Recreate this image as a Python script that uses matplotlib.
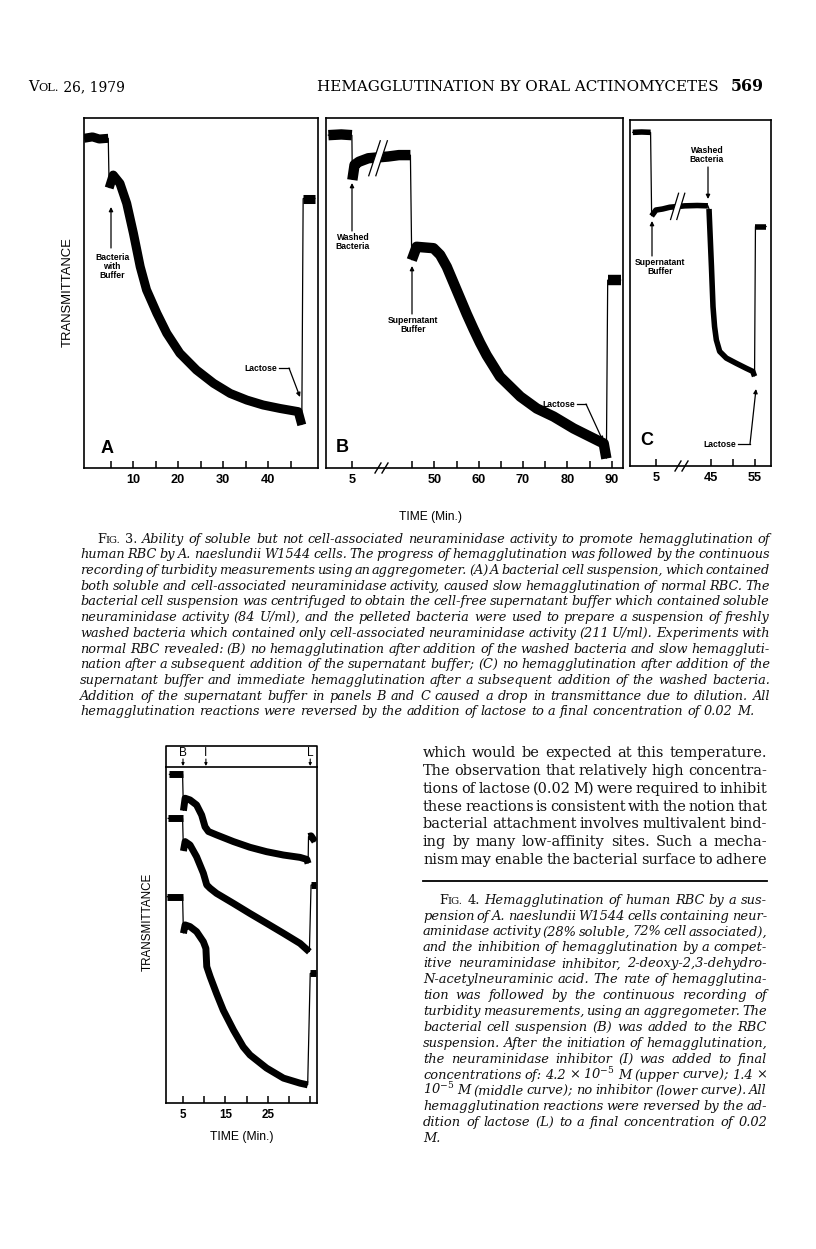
import matplotlib
matplotlib.use('Agg')
import matplotlib.pyplot as plt
from matplotlib.patches import Polygon
import matplotlib.transforms as mtransforms

plt.rcParams['mathtext.fontset'] = 'dejavuserif'

W, H = 816, 1249
SANS = 'Liberation Sans'
SERIF = 'DejaVu Serif'

# ---------------- data ----------------
# Fig. 3A : time (min) vs transmittance (% of panel height)
A_base_t = [-0.9, 1.0, 2.5, 4.5]
A_base_v = [94.2, 94.6, 94.0, 94.2]
A_curve_t = [4.7, 5.6, 7.1, 8.6, 10.1, 11.6, 13.0, 15.3, 17.5, 20.4, 24.1, 27.9, 31.6, 35.3, 38.9, 42.7, 46.7, 47.5]
A_curve_v = [80.0, 83.7, 81.3, 75.6, 67.0, 57.5, 50.9, 44.2, 38.5, 32.8, 28.0, 24.2, 21.3, 19.4, 18.0, 17.0, 16.1, 12.3]
A_lac_t = [47.8, 50.4]
A_lac_v = [77.0, 77.0]
A_ticks = [5, 10, 15, 20, 25, 30, 35, 40, 45]
A_ticklabels = ['', '10', '', '20', '', '30', '', '40', '']

# Fig. 3B (broken time axis)
B_base_t = [-0.4, 2.5, 4.9]
B_base_v = [95.1, 95.3, 95.1]
B_wash_t = [5.0, 5.5, 6.5, 8.6, 39.6, 42.0, 44.6]
B_wash_v = [82.3, 86.6, 87.5, 88.5, 89.0, 89.4, 89.4]
B_sup_t = [44.9, 46.0, 49.8, 51.3, 52.8, 54.3, 55.8, 57.3, 58.8, 60.3, 61.8, 64.8, 69.4, 73.1, 76.9, 81.4, 84.4, 88.2, 88.8]
B_sup_v = [59.4, 63.2, 62.8, 60.9, 57.5, 53.0, 48.5, 44.0, 39.8, 35.8, 32.2, 26.1, 20.4, 17.0, 14.7, 11.3, 9.4, 7.0, 2.7]
B_lac_t = [89.1, 92.0]
B_lac_v = [53.7, 53.7]
B_ticks = [5, 45, 50, 55, 60, 65, 70, 75, 80, 85, 90]
B_ticklabels = ['5', '', '50', '', '60', '', '70', '', '80', '', '90']
B_OFFSET = 26.5

# Fig. 3C (broken time axis)
C_base_t = [-0.2, 1.8, 3.8]
C_base_v = [95.9, 96.0, 95.9]
C_sup_t = [4.04, 5.0, 6.5, 8.1, 39.2, 42.0, 44.4]
C_sup_v = [72.0, 73.7, 74.0, 74.5, 74.9, 75.0, 74.9]
C_wash_t = [44.65, 45.2, 45.55, 45.9, 46.3, 47.05, 48.55, 50.8, 53.0, 54.5, 54.9]
C_wash_v = [74.0, 57.5, 46.1, 40.4, 36.6, 33.3, 31.4, 29.9, 28.5, 27.6, 26.2]
C_lac_t = [55.1, 57.5]
C_lac_v = [69.0, 69.0]
C_ticks = [5, 45, 50, 55]
C_ticklabels = ['5', '45', '', '55']
C_OFFSET = 27.7

# Fig. 4 : three curves (upper, middle, lower)
F4_up_base_t = [1.8, 4.9]
F4_up_base_v = [97.8, 97.8]
F4_up_t = [5.1, 5.5, 6.65, 8.2, 9.4, 10.2, 11.0, 12.9, 16.9, 20.8, 24.7, 28.7, 32.6, 34.2, 34.5]
F4_up_v = [87.0, 90.7, 90.2, 88.7, 85.7, 82.2, 80.8, 79.8, 77.8, 76.1, 74.8, 73.8, 73.1, 72.5, 71.3]
F4_up_lac_t = [34.6, 35.2, 36.1]
F4_up_lac_v = [79.3, 79.5, 77.8]
F4_mid_base_t = [1.5, 4.9]
F4_mid_base_v = [84.7, 84.7]
F4_mid_t = [5.1, 5.5, 6.65, 8.2, 9.8, 10.6, 11.4, 12.9, 16.9, 20.8, 24.7, 28.7, 32.6, 34.8]
F4_mid_v = [75.0, 77.8, 76.8, 73.3, 68.4, 64.9, 63.9, 62.4, 59.4, 56.4, 53.5, 50.5, 47.5, 45.0]
F4_mid_lac_t = [35.2, 36.3]
F4_mid_lac_v = [64.9, 64.9]
F4_low_base_t = [1.3, 4.9]
F4_low_base_v = [61.4, 61.4]
F4_low_t = [5.1, 5.5, 6.65, 8.2, 9.8, 10.4, 10.6, 11.4, 12.9, 14.5, 16.9, 19.2, 20.8, 24.7, 28.7, 32.6, 34.4]
F4_low_v = [50.5, 53.0, 52.5, 51.0, 48.0, 46.0, 40.6, 37.6, 32.6, 27.6, 21.7, 16.7, 14.3, 10.4, 7.4, 5.9, 5.4]
F4_low_lac_t = [35.0, 36.3]
F4_low_lac_v = [38.6, 38.6]
F4_ticks = [5, 10, 15, 20, 25, 30, 35]
F4_ticklabels = ['5', '', '15', '', '25', '', '']
F4_events = {'B': 5.0, 'I': 10.4, 'L': 35.0}

# ---------------- texts ----------------
header_title = 'HEMAGGLUTINATION BY ORAL ACTINOMYCETES'
header_page = '569'

fig3_caption = [
    "FIG. 3. Ability of soluble but not cell-associated neuraminidase activity to promote hemagglutination of",
    "human RBC by A. naeslundii W1544 cells. The progress of hemagglutination was followed by the continuous",
    "recording of turbidity measurements using an aggregometer. (A) A bacterial cell suspension, which contained",
    "both soluble and cell-associated neuraminidase activity, caused slow hemagglutination of normal RBC. The",
    "bacterial cell suspension was centrifuged to obtain the cell-free supernatant buffer which contained soluble",
    "neuraminidase activity (84 U/ml), and the pelleted bacteria were used to prepare a suspension of freshly",
    "washed bacteria which contained only cell-associated neuraminidase activity (211 U/ml). Experiments with",
    "normal RBC revealed: (B) no hemagglutination after addition of the washed bacteria and slow hemaggluti-",
    "nation after a subsequent addition of the supernatant buffer; (C) no hemagglutination after addition of the",
    "supernatant buffer and immediate hemagglutination after a subsequent addition of the washed bacteria.",
    "Addition of the supernatant buffer in panels B and C caused a drop in transmittance due to dilution. All",
    "hemagglutination reactions were reversed by the addition of lactose to a final concentration of 0.02 M.",
]

body_text = [
    "which would be expected at this temperature.",
    "The observation that relatively high concentra-",
    "tions of lactose (0.02 M) were required to inhibit",
    "these reactions is consistent with the notion that",
    "bacterial attachment involves multivalent bind-",
    "ing by many low-affinity sites. Such a mecha-",
    "nism may enable the bacterial surface to adhere",
]

fig4_caption = [
    "FIG. 4. Hemagglutination of human RBC by a sus-",
    "pension of A. naeslundii W1544 cells containing neur-",
    "aminidase activity (28% soluble, 72% cell associated),",
    "and the inhibition of hemagglutination by a compet-",
    "itive neuraminidase inhibitor, 2-deoxy-2,3-dehydro-",
    "N-acetylneuraminic acid. The rate of hemagglutina-",
    "tion was followed by the continuous recording of",
    "turbidity measurements, using an aggregometer. The",
    "bacterial cell suspension (B) was added to the RBC",
    "suspension. After the initiation of hemagglutination,",
    "the neuraminidase inhibitor (I) was added to final",
    "concentrations of: 4.2 \u00d7 10$^{-5}$ M (upper curve); 1.4 \u00d7",
    "10$^{-5}$ M (middle curve); no inhibitor (lower curve). All",
    "hemagglutination reactions were reversed by the ad-",
    "dition of lactose (L) to a final concentration of 0.02",
    "M.",
]

# ---------------- figure & helpers ----------------
fig = plt.figure(figsize=(W / 100, H / 100), dpi=100)
fig.patch.set_facecolor('white')
page = fig.add_axes([0, 0, 1, 1])
page.set_xlim(0, W)
page.set_ylim(H, 0)
page.axis('off')
R = fig.canvas.get_renderer()


def measure(s, **kw):
    t = page.text(0, 0, s, **kw)
    w = t.get_window_extent(renderer=R).width
    t.remove()
    return w


def fit_text(s, x0, x1, y, size, **kw):
    w = measure(s, fontsize=size, **kw)
    size2 = size * (x1 - x0) / w
    page.text((x0 + x1) / 2, y, s, fontsize=size2, ha='center', va='center', **kw)


def fit_vtext(s, x, y0, y1, size, **kw):
    w = measure(s, fontsize=size, **kw)
    size2 = size * (y1 - y0) / w
    page.text(x, (y0 + y1) / 2, s, fontsize=size2, ha='center', va='center',
              rotation=90, **kw)


def text_block(lines, x0, x1, yc0, dy, size, style, family, indent=0,
               justify_last=False, lead_words=0, spfac=0.4):
    """Justified text block. The first `lead_words` words of the first
    line are upright with 'FIG.' in small capitals."""
    base = dict(family=family, fontstyle=style)
    up = dict(family=family, fontstyle='normal')

    def words_of(i, sz):
        out = []
        for j, w in enumerate(lines[i].split(' ')):
            if i == 0 and j < lead_words:
                if w == 'FIG.':
                    out.append([('F', dict(up, fontsize=sz)), ('IG.', dict(up, fontsize=sz * 0.78))])
                else:
                    out.append([(w, dict(up, fontsize=sz))])
            else:
                out.append([(w, dict(base, fontsize=sz))])
        return out

    fit = 10.0
    for i in range(len(lines)):
        if i == len(lines) - 1 and not justify_last:
            continue
        ws = words_of(i, size)
        tot = sum(measure(s, **k) for w in ws for s, k in w)
        sp = measure('a a', **dict(base, fontsize=size)) - measure('aa', **dict(base, fontsize=size))
        nat = tot + (len(ws) - 1) * sp * spfac
        avail = x1 - (x0 + (indent if i == 0 else 0))
        fit = min(fit, avail / nat)
    sz = size * fit * 0.998
    sp = measure('a a', **dict(base, fontsize=sz)) - measure('aa', **dict(base, fontsize=sz))
    for i in range(len(lines)):
        ws = words_of(i, sz)
        widths = [[measure(s, **k) for s, k in w] for w in ws]
        tot = sum(sum(x) for x in widths)
        xs = x0 + (indent if i == 0 else 0)
        if (i < len(lines) - 1 or justify_last) and len(ws) > 1:
            gap = (x1 - xs - tot) / (len(ws) - 1)
        else:
            gap = sp
        x = xs
        yb = yc0 + i * dy + 0.36 * sz * 100 / 72
        for w, wd in zip(ws, widths):
            for (s, k), d in zip(w, wd):
                page.text(x, yb, s, ha='left', va='baseline', color='#111111', **k)
                x += d
            x += gap


def add_ax(l, t, r, b):
    ax = fig.add_axes([l / W, 1 - b / H, (r - l) / W, (b - t) / H])
    ax.set_facecolor('none')
    for sp in ax.spines.values():
        sp.set_linewidth(1.2)
    ax.set_yticks([])
    ax.tick_params(axis='x', direction='in', length=5, width=1.1, pad=4)
    return ax


def style_ticks(ax, ticks, labels, size=9.2):
    ax.set_xticks(ticks)
    ax.set_xticklabels(labels, fontfamily=SANS, fontweight='bold', fontsize=size)


def trace(ax, segs, lw, xmap=lambda t: t):
    allt, allv = [], []
    for t, v in segs:
        allt += list(t)
        allv += list(v)
    ax.plot([xmap(t) for t in allt], allv, color='k', lw=0.9, solid_joinstyle='miter')
    for t, v in segs:
        ax.plot([xmap(x) for x in t], v, color='k', lw=lw,
                solid_capstyle='butt', solid_joinstyle='round')


def stripe(ax, u0, v0, v1, width, slant):
    poly = Polygon([(u0, v0), (u0 + slant, v1), (u0 + slant + width, v1), (u0 + width, v0)],
                   closed=True, facecolor='white', edgecolor='none', zorder=5)
    ax.add_patch(poly)
    ax.plot([u0, u0 + slant], [v0, v1], color='k', lw=0.9, zorder=6)
    ax.plot([u0 + width, u0 + slant + width], [v0, v1], color='k', lw=0.9, zorder=6)


def axis_break(xc, y):
    page.add_patch(Polygon([(xc - 5, y - 3), (xc + 5, y - 3), (xc + 5, y + 3), (xc - 5, y + 3)],
                           facecolor='white', edgecolor='none', zorder=10))
    for dx in (-6, 1):
        page.plot([xc + dx, xc + dx + 6], [y + 5, y - 5], color='k', lw=1.0, zorder=11)


arrow_kw = dict(arrowstyle='-|>', color='k', lw=0.9, mutation_scale=6, shrinkA=0, shrinkB=0)


def arrow(x0, y0, x1, y1):
    page.annotate('', xy=(x1, y1), xytext=(x0, y0), arrowprops=arrow_kw)


note_kw = dict(family=SANS, fontweight='bold', fontsize=6.2, ha='center', va='center',
               linespacing=1.0)

# ---------------- header ----------------
page.text(28, 91, 'V', family=SERIF, fontsize=10.5, ha='left', va='baseline')
wv = measure('V', family=SERIF, fontsize=10.5)
page.text(28 + wv, 91, 'OL.', family=SERIF, fontsize=8.2, ha='left', va='baseline')
wo = measure('OL.', family=SERIF, fontsize=8.2)
page.text(28 + wv + wo, 91, ' 26, 1979', family=SERIF, fontsize=10, ha='left', va='baseline')
fit_text(header_title, 318, 718, 87, 10, family=SERIF)
fit_text(header_page, 731, 764, 86, 11, family=SERIF, fontweight='bold')

# ---------------- Fig. 3 panel A ----------------
axA = add_ax(84, 118, 318, 468)
axA.set_xlim(-0.89, 51.1)
axA.set_ylim(0, 100)
style_ticks(axA, A_ticks, A_ticklabels)
trace(axA, [(A_base_t, A_base_v), (A_curve_t, A_curve_v), (A_lac_t, A_lac_v)], 6.5)
page.text(107, 448, 'A', family=SANS, fontweight='bold', fontsize=13, ha='center', va='center')
page.text(112, 266, 'Bacteria\nwith\nBuffer', **note_kw)
arrow(111, 248, 111, 207)
page.text(277, 368, 'Lactose', **dict(note_kw, ha='right'))
page.plot([279, 289], [368, 368], color='k', lw=0.9)
arrow(289, 368, 300, 397)

# ---------------- Fig. 3 panel B ----------------
def mapB(t):
    return t if t < 20 else t - B_OFFSET

axB = add_ax(326, 118, 623, 468)
axB.set_xlim(-0.94, 66.05)
axB.set_ylim(0, 100)
style_ticks(axB, [mapB(t) for t in B_ticks], B_ticklabels)
trace(axB, [(B_base_t, B_base_v), (B_wash_t, B_wash_v), (B_sup_t, B_sup_v),
            (B_lac_t, B_lac_v)], 7.5, mapB)
stripe(axB, 8.7, 83.5, 93.5, 1.6, 2.6)
page.text(342, 447, 'B', family=SANS, fontweight='bold', fontsize=13, ha='center', va='center')
page.text(353, 242, 'Washed\nBacteria', **note_kw)
arrow(352, 231, 352, 183)
page.text(413, 325, 'Supernatant\nBuffer', **note_kw)
arrow(412, 314, 412, 266)
page.text(575, 404, 'Lactose', **dict(note_kw, ha='right'))
page.plot([577, 586], [404, 404], color='k', lw=0.9)
arrow(586, 404, 603, 441)
axis_break(381, 468)

# ---------------- Fig. 3 panel C ----------------
def mapC(t):
    return t if t < 20 else t - C_OFFSET

axC = add_ax(630, 120, 771, 466)
axC.set_xlim(-0.83, 30.9)
axC.set_ylim((468 - 466) / 3.5, (468 - 120) / 3.5)
style_ticks(axC, [mapC(t) for t in C_ticks], C_ticklabels)
trace(axC, [(C_base_t, C_base_v), (C_sup_t, C_sup_v), (C_wash_t, C_wash_v),
            (C_lac_t, C_lac_v)], 4.0, mapC)
stripe(axC, 8.3, 71.0, 78.5, 1.4, 1.8)
page.text(647, 440, 'C', family=SANS, fontweight='bold', fontsize=13, ha='center', va='center')
page.text(707, 155, 'Washed\nBacteria', **note_kw)
arrow(708, 167, 708, 199)
page.text(660, 267, 'Supernatant\nBuffer', **note_kw)
arrow(652, 256, 652, 221)
page.text(736, 444, 'Lactose', **dict(note_kw, ha='right'))
page.plot([738, 750], [444, 444], color='k', lw=0.9)
arrow(750, 444, 756, 389)
axis_break(681, 466)

fit_vtext('TRANSMITTANCE', 68, 238, 347, 8.5, family=SANS)
fit_text('TIME (Min.)', 399, 462, 517, 8.5, family=SANS)

# ---------------- Fig. 3 caption ----------------
text_block(fig3_caption, 80, 770, 538, 15.7, 9.0, 'italic', SERIF, indent=17,
           lead_words=2, spfac=0.45)

# ---------------- Fig. 4 chart ----------------
ax4 = add_ax(166, 767, 317, 1103)
ax4.set_xlim(0.99, 36.6)
ax4.set_ylim(0, 100)
style_ticks(ax4, F4_ticks, F4_ticklabels, size=8.4)
for base_t, base_v, t, v, lt, lv in [
        (F4_up_base_t, F4_up_base_v, F4_up_t, F4_up_v, F4_up_lac_t, F4_up_lac_v),
        (F4_mid_base_t, F4_mid_base_v, F4_mid_t, F4_mid_v, F4_mid_lac_t, F4_mid_lac_v),
        (F4_low_base_t, F4_low_base_v, F4_low_t, F4_low_v, F4_low_lac_t, F4_low_lac_v)]:
    trace(ax4, [(base_t, base_v), (t, v), (lt, lv)], 5.0)
strip_top = 1 + 21 / 336
ax4.plot([0, 0, 1, 1], [1, strip_top, strip_top, 1], transform=ax4.transAxes,
         color='k', lw=1.2, clip_on=False)
blend = mtransforms.blended_transform_factory(ax4.transData, ax4.transAxes)
for lab, t in F4_events.items():
    ax4.text(t, 1 + 13.5 / 336, lab, transform=blend, family=SANS, fontsize=8.5,
             ha='center', va='center')
    ax4.annotate('', xy=(t, 1.003), xytext=(t, 1 + 8 / 336), xycoords=blend,
                 textcoords=blend,
                 arrowprops=dict(arrowstyle='-|>', color='k', lw=0.8, mutation_scale=4,
                                 shrinkA=0, shrinkB=0))
fit_vtext('TRANSMITTANCE', 148, 873, 970, 8.0, family=SANS)
fit_text('TIME (Min.)', 210, 273, 1137, 8.0, family=SANS)

# ---------------- right column ----------------
text_block(body_text, 423, 767, 752, 17.8, 9.8, 'normal', SERIF, justify_last=True,
           spfac=0.45)
page.plot([423, 767], [881, 881], color='k', lw=1.3)
text_block(fig4_caption, 423, 767, 899, 15.9, 9.0, 'italic', SERIF, indent=16,
           lead_words=2, spfac=0.45)

fig.savefig('out.png', dpi=100, facecolor='white')
